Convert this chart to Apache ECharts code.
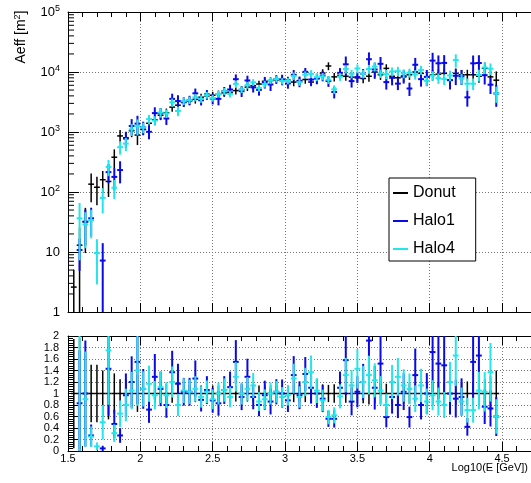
<!DOCTYPE html>
<html><head><meta charset="utf-8">
<script src="https://cdn.jsdelivr.net/npm/echarts@6/dist/echarts.min.js"></script>
<style>html,body{margin:0;padding:0;background:#fff}#c{width:531px;height:483px}</style>
</head><body><div id="c"></div>
<script>
// ---- data ----
const binCenters = [
 1.54,1.58,1.62,1.66,1.70,1.74,1.78,1.82,1.86,1.90,
 1.94,1.98,2.02,2.06,2.10,2.14,2.18,2.22,2.26,2.30,
 2.34,2.38,2.42,2.46,2.50,2.54,2.58,2.62,2.66,2.70,
 2.74,2.78,2.82,2.86,2.90,2.94,2.98,3.02,3.06,3.10,
 3.14,3.18,3.22,3.26,3.30,3.34,3.38,3.42,3.46,3.50,
 3.54,3.58,3.62,3.66,3.70,3.74,3.78,3.82,3.86,3.90,
 3.94,3.98,4.02,4.06,4.10,4.14,4.18,4.22,4.26,4.30,
 4.34,4.38,4.42,4.46];
const binHalfWidth = 0.02;
const donut = [
 2.6,13,32,135,120,160,150,380,860,800,
 1050,890,1100,1400,1600,1900,2100,2600,2800,3100,
 3300,3500,3800,4000,4100,4300,4500,4600,4900,5100,
 5600,5900,6300,7000,7200,7400,7500,7300,6800,7200,
 7500,6800,7800,9600,12600,8300,8800,8500,8200,8000,
 7800,8500,10000,9000,11500,8500,8000,8300,9000,10000,
 9500,8300,9000,9200,9500,7300,9500,9000,9000,9000,
 8500,11500,8300,7300];
const donutRelErr = [
 0.95,0.96,0.7,0.5,0.5,0.4,0.45,0.35,0.25,0.25,
 0.22,0.32,0.2,0.2,0.18,0.17,0.17,0.16,0.16,0.15,
 0.15,0.15,0.14,0.14,0.14,0.14,0.14,0.14,0.14,0.14,
 0.14,0.14,0.14,0.14,0.14,0.14,0.14,0.14,0.15,0.15,
 0.15,0.15,0.15,0.16,0.15,0.16,0.16,0.16,0.17,0.17,
 0.17,0.19,0.17,0.18,0.17,0.18,0.18,0.18,0.18,0.18,
 0.19,0.19,0.2,0.2,0.2,0.21,0.2,0.2,0.21,0.21,
 0.22,0.25,0.3,0.4];
const halo1Ratio = [
 null,0.83,1.0,0.27,null,0.045,1.43,0.47,0.27,0.97,
 1.2,1.55,1.08,0.72,1.29,1.08,0.8,1.37,1.17,1.03,
 1.03,1.26,0.89,1.06,0.88,0.83,1.06,1.11,1.55,0.94,
 1.29,0.94,0.8,0.97,0.86,1.03,1.0,0.88,1.32,0.97,
 1.34,1.1,1.0,0.91,0.56,0.56,1.1,1.58,0.86,1.03,
 1.2,1.92,1.1,1.52,0.59,0.94,0.8,1.03,0.59,1.32,
 0.8,1.0,1.72,1.52,1.49,1.0,0.91,0.94,0.42,1.55,
 1.66,0.77,0.74,0.6];
const halo1RelErr = [
 null,0.55,0.6,0.5,null,0.95,0.35,0.4,0.4,0.3,
 0.3,0.35,0.25,0.25,0.25,0.22,0.22,0.22,0.25,0.18,
 0.18,0.2,0.18,0.18,0.2,0.22,0.18,0.2,0.2,0.2,
 0.2,0.18,0.2,0.22,0.22,0.16,0.2,0.18,0.2,0.2,
 0.16,0.2,0.2,0.2,0.2,0.22,0.2,0.35,0.22,0.2,
 0.2,0.3,0.3,0.3,0.25,0.25,0.22,0.25,0.25,0.3,
 0.25,0.3,0.35,0.35,0.35,0.3,0.3,0.28,0.3,0.35,
 0.35,0.3,0.3,0.4];
const halo4Ratio = [
 null,2.8,0.9,0.25,0.08,0.5,1.75,0.31,0.65,0.8,
 1.05,1.4,1.08,1.17,0.97,1.11,0.97,1.2,0.8,1.05,
 1.03,1.08,0.94,1.03,0.9,1.0,1.06,0.94,1.29,1.0,
 1.08,1.14,0.86,0.9,1.0,1.03,0.94,0.97,1.26,0.94,
 1.2,1.37,1.05,0.88,0.59,0.62,0.95,1.32,1.14,1.43,
 1.2,1.32,1.23,1.05,0.8,1.2,1.29,1.14,1.08,0.91,
 1.14,0.86,0.97,0.86,0.8,1.2,1.66,0.86,0.71,0.71,
 1.05,1.03,1.37,0.6];
const halo4RelErr = [
 null,0.8,0.6,0.5,0.7,0.45,0.3,0.35,0.25,0.25,
 0.22,0.3,0.2,0.18,0.18,0.18,0.16,0.16,0.18,0.14,
 0.14,0.14,0.14,0.13,0.13,0.13,0.13,0.13,0.14,0.13,
 0.13,0.13,0.13,0.13,0.13,0.12,0.12,0.12,0.14,0.13,
 0.14,0.15,0.14,0.14,0.15,0.16,0.15,0.16,0.16,0.17,
 0.16,0.17,0.17,0.16,0.18,0.17,0.18,0.17,0.17,0.18,
 0.17,0.18,0.18,0.2,0.2,0.2,0.25,0.2,0.22,0.22,
 0.22,0.22,0.22,0.3];
const seriesNames = ['Donut','Halo1','Halo4'];
const seriesColors = ['#000000','#0a0ae8','#22e6ea'];
const xTickValues = [1.5,2,2.5,3,3.5,4,4.5];
const ratioTickValues = [0,0.2,0.4,0.6,0.8,1,1.2,1.4,1.6,1.8,2];
const logDecades = [1,10,100,1000,10000,100000];

// ---- build series data ----
function topData(ratio, rel) {
  const out = [];
  for (let i = 0; i < binCenters.length; i++) {
    if (ratio && ratio[i] == null) continue;
    const v = ratio ? donut[i] * ratio[i] : donut[i];
    const e = v * rel[i];
    out.push([binCenters[i], v, v - e, v + e]);
  }
  return out;
}
function ratioData(ratio, rel) {
  const out = [];
  for (let i = 0; i < binCenters.length; i++) {
    if (ratio && ratio[i] == null) continue;
    if (!ratio) { out.push([binCenters[i], 1, 1 - donutRelErr[i], 1 + donutRelErr[i]]); continue; }
    const r = ratio[i];
    const e = r * Math.sqrt(rel[i] * rel[i] + donutRelErr[i] * donutRelErr[i]);
    out.push([binCenters[i], r, r - e, r + e]);
  }
  return out;
}
function errRender(color, lw, floor) {
  return function (params, api) {
    const x = api.value(0), y = api.value(1);
    const lo = Math.max(api.value(2), floor), hi = api.value(3);
    const a = api.coord([x, lo]), b = api.coord([x, hi]);
    const l = api.coord([x - binHalfWidth, y]), r = api.coord([x + binHalfWidth, y]);
    return {type: 'group', children: [
      {type: 'line', shape: {x1: a[0], y1: a[1], x2: b[0], y2: b[1]}, style: {stroke: color, lineWidth: lw}},
      {type: 'line', shape: {x1: l[0], y1: l[1], x2: r[0], y2: r[1]}, style: {stroke: color, lineWidth: lw}}
    ]};
  };
}
const minorLog = [];
for (let d = 0; d < logDecades.length - 1; d++)
  for (let m = 2; m <= 9; m++) minorLog.push([1.5, logDecades[d] * m]);

const FONT = 'Liberation Sans, Arial, Helvetica, sans-serif';
const gridLine = {show: true, lineStyle: {color: '#777', width: 1, type: [1, 2]}};
const axLine = {show: true, lineStyle: {color: '#000', width: 1}};
const lw = [1.5, 2, 2];

function xAx(grid, pos, labels) {
  return {
    type: 'value', gridIndex: grid, position: pos, min: 1.5, max: 4.7, interval: 0.5,
    axisLine: axLine,
    axisTick: {show: true, inside: true, length: 9, lineStyle: {color: '#000'}},
    minorTick: {show: true, splitNumber: 5, length: 5, lineStyle: {color: '#000'}},
    splitLine: pos === 'bottom' ? gridLine : {show: false},
    axisLabel: labels ? {show: true, color: '#000', fontFamily: FONT, fontSize: 11, margin: 2,
      showMaxLabel: false, formatter: v => { const t = xTickValues.find(q => Math.abs(q - v) < 1e-6); return t === undefined ? '' : String(t); }} : {show: false}
  };
}

const option = {
  animation: false,
  backgroundColor: '#fff',
  grid: [
    {left: 68, top: 12, width: 470, height: 300},
    {left: 68, top: 336, width: 470, height: 115}
  ],
  xAxis: [xAx(0, 'bottom', false), xAx(0, 'top', false), xAx(1, 'bottom', true), xAx(1, 'top', false)],
  yAxis: [
    {type: 'log', logBase: 10, gridIndex: 0, min: 1, max: 100000, splitNumber: 5,
     axisLine: axLine,
     axisTick: {show: true, inside: true, length: 11, lineStyle: {color: '#000'}},
     splitLine: gridLine,
     axisLabel: {color: '#000', margin: 8, fontFamily: FONT,
       formatter: v => { const e = Math.round(Math.log10(v)); if (e === 0) return '{n|1}'; if (e === 1) return '{n|10}'; return '{n|10}{s|' + e + '}'; },
       rich: {n: {fontSize: 13, lineHeight: 13, fontFamily: FONT, color: '#000'},
              s: {fontSize: 9, lineHeight: 9, padding: [0, 0, 6, 0], fontFamily: FONT, color: '#000'}}}},
    {type: 'value', gridIndex: 1, min: 0, max: 2, interval: 0.2,
     axisLine: axLine,
     axisTick: {show: true, inside: true, length: 10, lineStyle: {color: '#000'}},
     minorTick: {show: true, splitNumber: 5, length: 5, lineStyle: {color: '#000'}},
     splitLine: gridLine,
     axisLabel: {color: '#000', margin: 9, fontFamily: FONT, fontSize: 11,
       formatter: v => { const t = ratioTickValues.find(q => Math.abs(q - v) < 1e-6); return t === undefined ? '' : String(t); }}}
  ],
  legend: {
    orient: 'vertical', left: 389, top: 178, data: seriesNames.map(n => ({name: n, icon: 'rect'})),
    itemWidth: 15, itemHeight: 2, itemGap: 12, padding: [7, 20, 4, 4],
    backgroundColor: '#fff', borderColor: '#000', borderWidth: 1, borderRadius: 0,
    textStyle: {color: '#000', fontSize: 16, lineHeight: 16, fontFamily: FONT}, selectedMode: false
  },
  graphic: [
    {type: 'text', x: 21, y: 37, rotation: Math.PI / 2, style: {
      text: '{n|Aeff [m}{s|2}{n|]}', align: 'center', verticalAlign: 'middle',
      rich: {n: {fontSize: 14, lineHeight: 14, fontFamily: FONT, fill: '#000', color: '#000'},
             s: {fontSize: 9, lineHeight: 9, padding: [0, 0, 6, 0], fontFamily: FONT, fill: '#000', color: '#000'}}}},
    {type: 'text', x: 528, y: 468, style: {text: 'Log10(E [GeV])', align: 'right', verticalAlign: 'middle',
      fontSize: 11, fontFamily: FONT, fill: '#000'}}
  ],
  series: [
    {type: 'custom', name: 'logMinor', xAxisIndex: 0, yAxisIndex: 0, silent: true, clip: false, z: 3,
     data: minorLog, renderItem: (p, api) => { const c = api.coord([api.value(0), api.value(1)]);
       return {type: 'line', shape: {x1: c[0], y1: c[1], x2: c[0] + 6, y2: c[1]}, style: {stroke: '#000', lineWidth: 1}}; }},
    {type: 'custom', name: seriesNames[0], xAxisIndex: 0, yAxisIndex: 0, clip: true, z: 4, itemStyle: {color: seriesColors[0]},
     data: topData(null, donutRelErr), renderItem: errRender(seriesColors[0], lw[0], 0.5)},
    {type: 'custom', name: seriesNames[1], xAxisIndex: 0, yAxisIndex: 0, clip: true, z: 4, itemStyle: {color: seriesColors[1]},
     data: topData(halo1Ratio, halo1RelErr), renderItem: errRender(seriesColors[1], lw[1], 0.5)},
    {type: 'custom', name: seriesNames[2], xAxisIndex: 0, yAxisIndex: 0, clip: true, z: 4, itemStyle: {color: seriesColors[2]},
     data: topData(halo4Ratio, halo4RelErr), renderItem: errRender(seriesColors[2], lw[2], 0.5)},
    {type: 'custom', name: 'rDonut', xAxisIndex: 2, yAxisIndex: 1, clip: true, z: 4,
     data: ratioData(null, null), renderItem: errRender(seriesColors[0], lw[0], -1)},
    {type: 'custom', name: 'rHalo1', xAxisIndex: 2, yAxisIndex: 1, clip: true, z: 4,
     data: ratioData(halo1Ratio, halo1RelErr), renderItem: errRender(seriesColors[1], lw[1], -1)},
    {type: 'custom', name: 'rHalo4', xAxisIndex: 2, yAxisIndex: 1, clip: true, z: 4,
     data: ratioData(halo4Ratio, halo4RelErr), renderItem: errRender(seriesColors[2], lw[2], -1)}
  ]
};
const chart = echarts.init(document.getElementById('c'), null, {renderer: 'canvas'});
chart.setOption(option);
</script></body></html>
